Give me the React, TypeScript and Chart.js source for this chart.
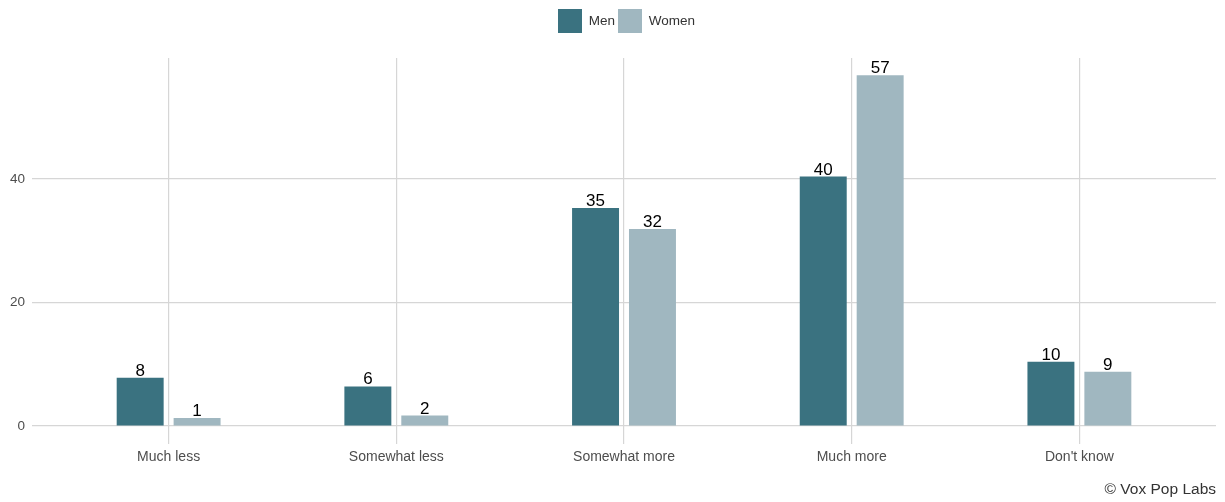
import React, { useEffect, useRef } from "react";
import { Chart, registerables } from "chart.js";

Chart.register(...registerables);

const categories = ["Much less", "Somewhat less", "Somewhat more", "Much more", "Don't know"];
const menValues = [7.8, 6.4, 35.3, 40.4, 10.4];
const womenValues = [1.3, 1.7, 31.9, 56.8, 8.8];
const yTicks = [0, 20, 40];

const FONT = "'Liberation Sans', Arial, Helvetica, sans-serif";

const labelPlugin = {
  id: "barValueLabels",
  afterDatasetsDraw(chart: any) {
    const ctx = chart.ctx;
    ctx.save();
    ctx.font = `17px ${FONT}`;
    ctx.fillStyle = "#000";
    ctx.textAlign = "center";
    ctx.textBaseline = "alphabetic";
    chart.data.datasets.forEach((ds: any, di: number) => {
      const meta = chart.getDatasetMeta(di);
      meta.data.forEach((el: any, i: number) => {
        const v = ds.data[i].y;
        ctx.fillText(String(Math.round(v)), el.x, el.y - 2);
      });
    });
    ctx.restore();
  },
};

const legendSpacing = {
  id: "legendSpacing",
  beforeInit(chart: any) {
    const orig = chart.legend.fit;
    chart.legend.fit = function () {
      orig.bind(chart.legend)();
      this.height += 15;
    };
  },
  afterLayout(chart: any) {
    chart.legend.left += 17;
    chart.legend.right += 17;
  },
};

export default function App() {
  const ref = useRef<HTMLCanvasElement>(null);
  useEffect(() => {
    document.body.style.margin = "0";
    const canvas = ref.current!;
    const chart = new Chart(canvas, {
      type: "bar",
      data: {
        datasets: [
          {
            label: "Men",
            data: menValues.map((v, i) => ({ x: i + 1, y: v })),
            backgroundColor: "#3a7280",
            categoryPercentage: 0.5,
            barPercentage: 0.825,
          },
          {
            label: "Women",
            data: womenValues.map((v, i) => ({ x: i + 1, y: v })),
            backgroundColor: "#a0b7c0",
            categoryPercentage: 0.5,
            barPercentage: 0.825,
          },
        ],
      },
      options: {
        animation: false,
        responsive: false,
        maintainAspectRatio: false,
        layout: { padding: { left: 3, right: 9, top: 6, bottom: 0 } },
        scales: {
          x: {
            type: "linear",
            min: 0.4,
            max: 5.6,
            offset: false,
            afterBuildTicks: (axis: any) => {
              axis.ticks = categories.map((_, i) => ({ value: i + 1 }));
            },
            ticks: {
              autoSkip: false,
              maxRotation: 0,
              padding: 5,
              color: "#4d4d4d",
              font: { family: FONT, size: 14 },
              callback: (v: any) => categories[Math.round(Number(v)) - 1] ?? "",
            },
            grid: { color: "#d6d6d6", lineWidth: 1.2, drawTicks: false, offset: false },
            border: { display: false },
          },
          y: {
            min: -2.85,
            max: 59.6,
            afterBuildTicks: (axis: any) => {
              axis.ticks = yTicks.map((v) => ({ value: v }));
            },
            ticks: {
              padding: 7,
              color: "#4d4d4d",
              font: { family: FONT, size: 13.5 },
            },
            grid: { color: "#d6d6d6", lineWidth: 1.2, drawTicks: false },
            border: { display: false },
          },
        },
        plugins: {
          legend: {
            position: "top",
            align: "center",
            labels: {
              boxWidth: 24,
              boxHeight: 24,
              padding: 3,
              color: "#333",
              font: { family: FONT, size: 13.5 },
            },
          },
          subtitle: {
            display: true,
            text: "© Vox Pop Labs",
            position: "bottom",
            align: "end",
            color: "#333",
            font: { family: FONT, size: 15.5, weight: "normal" },
            padding: { top: 10, bottom: 3 },
          },
          tooltip: { enabled: false },
        },
      },
      plugins: [labelPlugin, legendSpacing],
    } as any);
    return () => chart.destroy();
  }, []);
  return (
    <div style={{ width: 1225, height: 502, position: "relative" }}>
      <canvas ref={ref} width={1225} height={502} style={{ width: 1225, height: 502, display: "block" }} />
    </div>
  );
}
